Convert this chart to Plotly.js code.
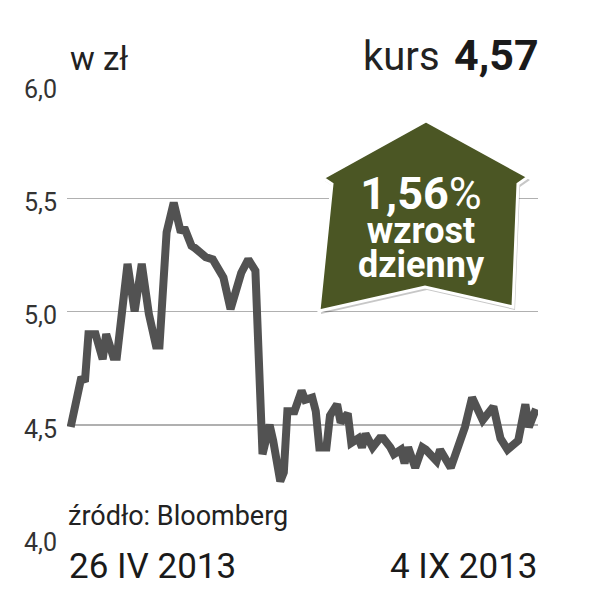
<!DOCTYPE html>
<html>
<head>
<meta charset="utf-8">
<script src="https://cdn.plot.ly/plotly-3.0.1.min.js"></script>
<style>
  html, body { margin: 0; padding: 0; background: #ffffff; }
  #chart { width: 591px; height: 608px; }
</style>
</head>
<body>
<div id="chart"></div>
<script>
// ---- data ----
const dates = [
  '2013-04-26','2013-04-29','2013-04-30','2013-05-01','2013-05-03','2013-05-05','2013-05-06','2013-05-08',
  '2013-05-09','2013-05-12','2013-05-14','2013-05-16','2013-05-18','2013-05-20','2013-05-21','2013-05-23',
  '2013-05-25','2013-05-27','2013-05-28','2013-05-30','2013-05-31','2013-06-03','2013-06-05','2013-06-08',
  '2013-06-10','2013-06-12','2013-06-13','2013-06-15','2013-06-17','2013-06-19','2013-06-21','2013-06-22',
  '2013-06-24','2013-06-25','2013-06-26','2013-06-28','2013-06-30','2013-07-01','2013-07-03','2013-07-04',
  '2013-07-05','2013-07-07','2013-07-08','2013-07-10','2013-07-11','2013-07-13','2013-07-14','2013-07-16',
  '2013-07-17','2013-07-18','2013-07-20','2013-07-22','2013-07-23','2013-07-25','2013-07-26','2013-07-28',
  '2013-07-29','2013-07-30','2013-08-01','2013-08-03','2013-08-04','2013-08-07','2013-08-08','2013-08-11',
  '2013-08-15','2013-08-17','2013-08-20','2013-08-23','2013-08-25','2013-08-27','2013-08-30','2013-09-01',
  '2013-09-02','2013-09-04'
];
const prices = [
  4.49, 4.71, 4.69, 4.90, 4.90, 4.79, 4.90, 4.80,
  4.80, 5.21, 5.00, 5.21, 4.99, 4.85, 4.85, 5.35,
  5.48, 5.35, 5.37, 5.29, 5.28, 5.24, 5.23, 5.15,
  5.01, 5.14, 5.17, 5.23, 5.18, 4.37, 4.50, 4.43,
  4.25, 4.29, 4.56, 4.56, 4.65, 4.61, 4.62, 4.56,
  4.40, 4.40, 4.54, 4.59, 4.51, 4.55, 4.42, 4.44,
  4.40, 4.46, 4.40, 4.44, 4.44, 4.40, 4.37, 4.39,
  4.33, 4.40, 4.31, 4.40, 4.39, 4.34, 4.39, 4.31,
  4.49, 4.62, 4.52, 4.58, 4.44, 4.39, 4.43, 4.59,
  4.49, 4.57
];
const yTickVals = [4.0, 4.5, 5.0, 5.5, 6.0];
const yTickText = ['4,0', '4,5', '5,0', '5,5', '6,0'];
const xLabels = ['26 IV 2013', '4 IX 2013'];
const unitLabel = 'w zł';
const kursLabel = 'kurs';
const lastValue = '4,57';
const changeLabel = '1,56';
const changeWords = ['wzrost', 'dzienny'];
const sourceLabel = 'źródło: Bloomberg';

// ---- layout geometry ----
const W = 591, H = 608;
const M = { l: 67, r: 53, t: 85, b: 70 };
const PW = W - M.l - M.r, PH = H - M.t - M.b;
const px = X => (X - M.l) / PW;
const py = Y => (H - M.b - Y) / PH;

function polyPath(pts, dx, dy) {
  return pts.map((p, i) => (i ? 'L' : 'M') + px(p[0] + dx).toFixed(4) + ',' + py(p[1] + dy).toFixed(4)).join(' ') + ' Z';
}
const arrowPts = [
  [426, 121], [528, 177], [518, 184], [513, 307],
  [425, 287], [319, 311], [332, 184], [323, 178]
];

const narrow = 'Liberation Sans Narrow, Roboto, sans-serif';
const sans = 'Roboto, Liberation Sans, sans-serif';

const trace = {
  type: 'scatter',
  mode: 'lines',
  x: dates,
  y: prices,
  line: { color: '#525252', width: 8 },
  hoverinfo: 'x+y'
};

const badgeText =
  '<span style="font-size:45px"><b>' + changeLabel + '</b>%</span><br>' +
  '<span style="font-size:36px"><b>' + changeWords[0] + '</b></span><br>' +
  '<span style="font-size:36px"><b>' + changeWords[1] + '</b></span>';

const layout = {
  width: W, height: H,
  margin: M,
  paper_bgcolor: '#ffffff',
  plot_bgcolor: '#ffffff',
  showlegend: false,
  xaxis: {
    type: 'date',
    range: ['2013-04-24 23:00', '2013-09-04 13:30'],
    showgrid: false, zeroline: false, showline: false,
    showticklabels: false, ticks: ''
  },
  yaxis: {
    range: [4.0, 6.0],
    tickvals: yTickVals,
    ticktext: yTickText,
    showgrid: true,
    gridcolor: '#b0b0b0',
    gridwidth: 1.5,
    zeroline: false, showline: false, ticks: '',
    ticklabelstandoff: 9,
    ticklabelshift: 4,
    tickfont: { family: sans, size: 25, color: '#333333' }
  },
  shapes: [
    { type: 'path', xref: 'paper', yref: 'paper', layer: 'above',
      path: polyPath(arrowPts, 2, 3),
      fillcolor: 'rgba(0,0,0,0.22)', line: { width: 0 } },
    { type: 'path', xref: 'paper', yref: 'paper', layer: 'above',
      path: polyPath(arrowPts, 0, 0),
      fillcolor: '#4b5624', line: { color: '#ffffff', width: 3 } }
  ],
  annotations: [
    { text: unitLabel, xref: 'paper', yref: 'paper', x: px(68), y: py(80),
      xanchor: 'left', yanchor: 'bottom', showarrow: false,
      font: { family: sans, size: 33, color: '#222222' } },
    { text: kursLabel, xref: 'paper', yref: 'paper', x: px(442), y: py(82),
      xanchor: 'right', yanchor: 'bottom', showarrow: false,
      font: { family: narrow, size: 40, color: '#222222' } },
    { text: '<b>' + lastValue + '</b>', xref: 'paper', yref: 'paper', x: px(541), y: py(82),
      xanchor: 'right', yanchor: 'bottom', showarrow: false,
      font: { family: sans, size: 43, color: '#1a1a1a' } },
    { text: badgeText, xref: 'paper', yref: 'paper', x: px(421), y: py(226),
      xanchor: 'center', yanchor: 'middle', showarrow: false,
      font: { family: sans, size: 26, color: '#ffffff' } },
    { text: sourceLabel, xref: 'paper', yref: 'paper', x: px(66), y: py(534),
      xanchor: 'left', yanchor: 'bottom', showarrow: false,
      font: { family: sans, size: 27, color: '#222222' } },
    { text: xLabels[0], xref: 'x', yref: 'paper', x: dates[0], y: py(544), xshift: -4,
      xanchor: 'left', yanchor: 'top', showarrow: false,
      font: { family: sans, size: 35, color: '#1a1a1a' } },
    { text: xLabels[1], xref: 'x', yref: 'paper', x: dates[dates.length - 1], y: py(544), xshift: 3,
      xanchor: 'right', yanchor: 'top', showarrow: false,
      font: { family: sans, size: 35, color: '#1a1a1a' } }
  ]
};

Plotly.newPlot('chart', [trace], layout, { staticPlot: true, displayModeBar: false });
</script>
</body>
</html>
